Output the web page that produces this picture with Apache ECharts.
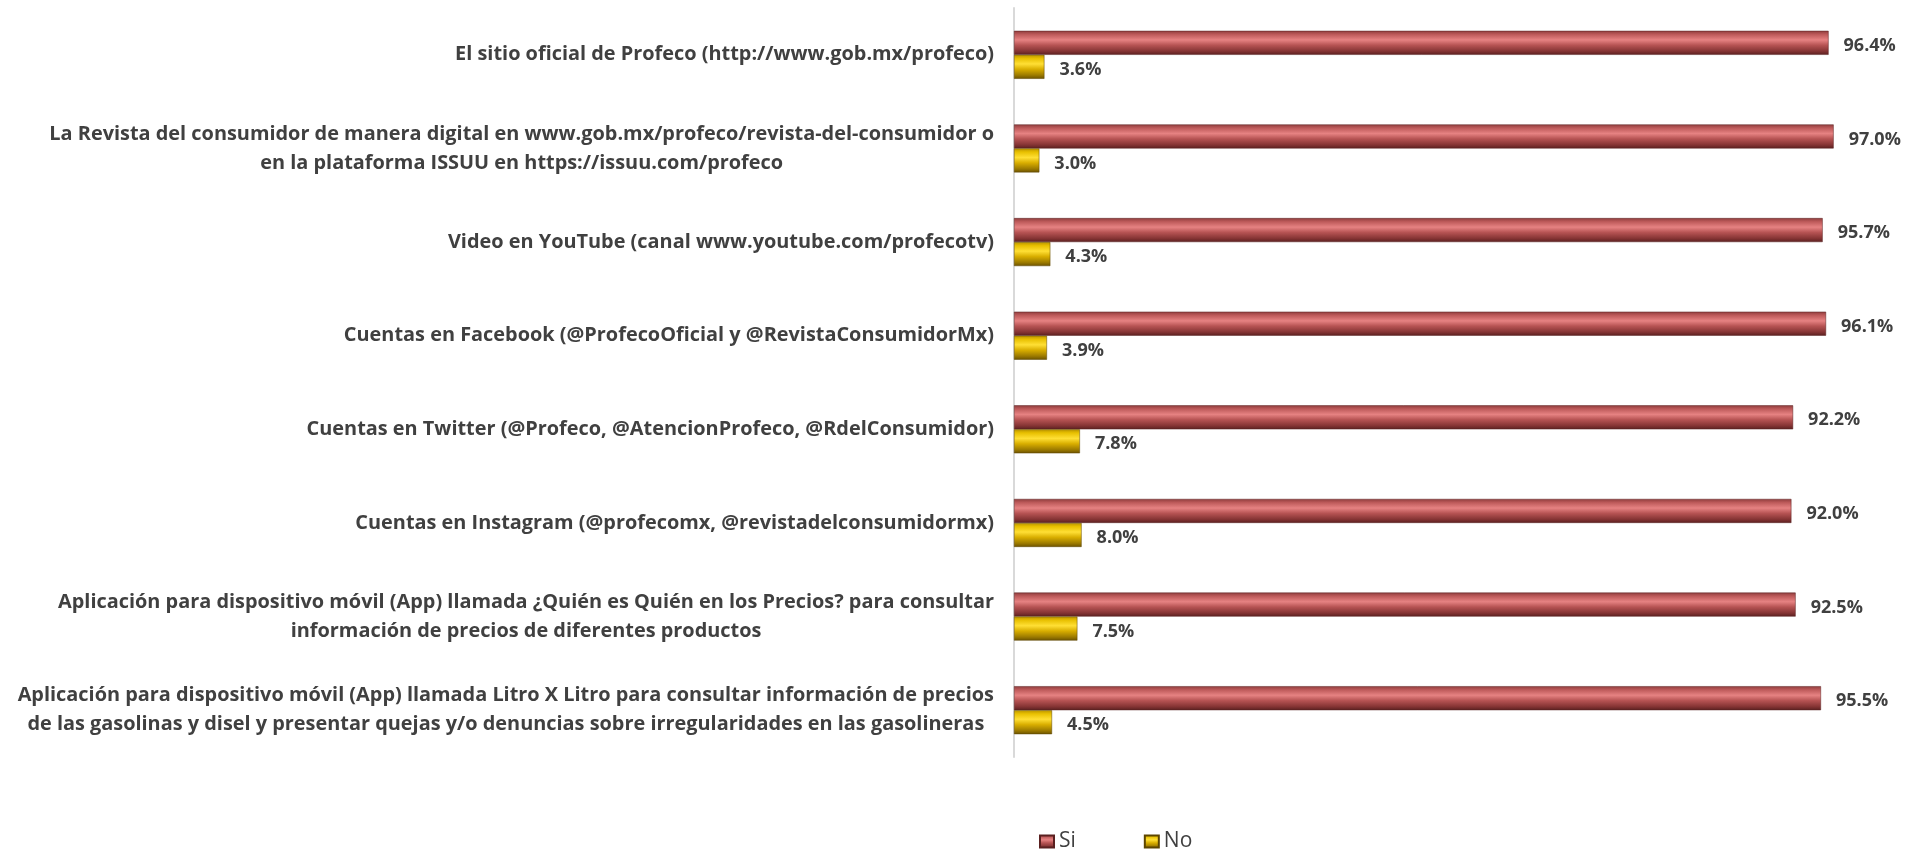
<!DOCTYPE html>
<html>
<head>
<meta charset="utf-8">
<title>Profeco canales</title>
<script src="https://cdn.jsdelivr.net/npm/echarts@6/dist/echarts.min.js"></script>
<style>
  html, body { margin: 0; padding: 0; background: #ffffff; }
  #chart { width: 1908px; height: 850px; }
</style>
</head>
<body>
<div id="chart"></div>
<script>
  // categorias (con los saltos de linea del original)
  let categories = [
    'El sitio oficial de Profeco (http://www.gob.mx/profeco)',
    'La Revista del consumidor de manera digital en www.gob.mx/profeco/revista-del-consumidor o\nen la plataforma ISSUU en https://issuu.com/profeco',
    'Video en YouTube (canal www.youtube.com/profecotv)',
    'Cuentas en Facebook (@ProfecoOficial y @RevistaConsumidorMx)',
    'Cuentas en Twitter (@Profeco, @AtencionProfeco, @RdelConsumidor)',
    'Cuentas en Instagram (@profecomx, @revistadelconsumidormx)',
    'Aplicación para dispositivo móvil (App) llamada ¿Quién es Quién en los Precios? para consultar\ninformación de precios de diferentes productos',
    'Aplicación para dispositivo móvil (App) llamada Litro X Litro para consultar información de precios\nde las gasolinas y disel y presentar quejas y/o denuncias sobre irregularidades en las gasolineras'
  ]
  let siValues = [96.4, 97.0, 95.7, 96.1, 92.2, 92.0, 92.5, 95.5]
  let noValues = [3.6, 3.0, 4.3, 3.9, 7.8, 8.0, 7.5, 4.5]

  let chart = echarts.init(document.getElementById('chart'))

  let textColor = '#404040'
  let labelFont = '"Open Sans", "Liberation Sans", sans-serif'

  let siColor = new echarts.graphic.LinearGradient(0, 0, 0, 1, [
    {offset: 0, color: '#8e3c3c'},
    {offset: 0.15, color: '#bd5a5a'},
    {offset: 0.38, color: '#e68282'},
    {offset: 0.6, color: '#b65353'},
    {offset: 0.85, color: '#853434'},
    {offset: 1, color: '#5a2020'}
  ])
  let noColor = new echarts.graphic.LinearGradient(0, 0, 0, 1, [
    {offset: 0, color: '#b89200'},
    {offset: 0.15, color: '#e8c000'},
    {offset: 0.38, color: '#ffdf35'},
    {offset: 0.6, color: '#d9ae00'},
    {offset: 0.85, color: '#9c7a00'},
    {offset: 1, color: '#6b5200'}
  ])

  let valueLabel = {
    show: true,
    position: 'right',
    distance: 15,
    offset: [0, 3],
    color: textColor,
    fontFamily: labelFont,
    fontWeight: 'bold',
    fontSize: 18,
    formatter: function(p) {
      return p.value.toFixed(1) + '%'
    }
  }

  let option = {
    backgroundColor: '#ffffff',
    animation: false,
    grid: {
      left: 1014,
      right: 49,
      top: 8,
      bottom: 93,
      outerBoundsMode: 'none'
    },
    legend: {
      data: ['Si', 'No'],
      left: 1034,
      top: 826,
      icon: 'rect',
      itemWidth: 14,
      itemHeight: 12,
      itemGap: 68,
      textStyle: {
        color: textColor,
        fontFamily: labelFont,
        fontSize: 21
      }
    },
    xAxis: {
      type: 'value',
      min: 0,
      max: 100,
      show: false
    },
    yAxis: {
      type: 'category',
      inverse: true,
      data: categories,
      axisLine: {
        show: true,
        lineStyle: {color: '#d9d9d9', width: 2}
      },
      axisTick: {show: false},
      axisLabel: {
        margin: 20,
        lineHeight: 29,
        formatter: function(value) {
          return value.split('\n').map(function(line) {
            return '{c|' + line + '}'
          }).join('\n')
        },
        rich: {
          c: {
            align: 'center',
            color: textColor,
            fontFamily: labelFont,
            fontWeight: 'bold',
            fontSize: 19.9,
            lineHeight: 29
          }
        }
      }
    },
    series: [
      {
        name: 'Si',
        type: 'bar',
        data: siValues,
        barWidth: 24,
        barGap: '0%',
        itemStyle: {
          color: siColor,
          borderColor: '#5a2020',
          borderWidth: 0.5
        },
        label: valueLabel
      },
      {
        name: 'No',
        type: 'bar',
        data: noValues,
        barWidth: 24,
        itemStyle: {
          color: noColor,
          borderColor: '#5c4500',
          borderWidth: 0.5
        },
        label: valueLabel
      }
    ]
  }
  chart.setOption(option)
</script>
</body>
</html>
